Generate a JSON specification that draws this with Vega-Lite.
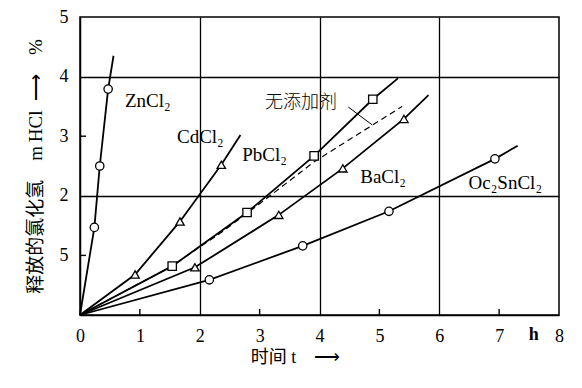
{
  "$schema": "https://vega.github.io/schema/vega-lite/v6.json",
  "width": 479,
  "height": 298,
  "autosize": "none",
  "padding": {"left": 80, "top": 17, "right": 23, "bottom": 73},
  "background": "white",
  "config": {
    "view": {"stroke": "black", "strokeWidth": 1.5},
    "font": "Liberation Serif, Noto Sans CJK SC",
    "axis": {
      "domainColor": "black",
      "domainWidth": 1.5,
      "tickColor": "black",
      "labelColor": "black",
      "titleColor": "black",
      "labelFont": "Liberation Serif",
      "labelFontSize": 18,
      "titleFont": "Liberation Serif, Noto Sans CJK SC",
      "titleFontSize": 18,
      "titleFontWeight": "normal",
      "gridColor": "black"
    }
  },
  "datasets": {
    "solid": [
      {"series": "ZnCl2", "x": 0, "y": 0},
      {"series": "ZnCl2", "x": 0.24, "y": 1.47},
      {"series": "ZnCl2", "x": 0.33, "y": 2.5},
      {"series": "ZnCl2", "x": 0.47, "y": 3.79},
      {"series": "ZnCl2", "x": 0.56, "y": 4.35},
      {"series": "CdCl2", "x": 0, "y": 0},
      {"series": "CdCl2", "x": 0.92, "y": 0.68},
      {"series": "CdCl2", "x": 1.67, "y": 1.57},
      {"series": "CdCl2", "x": 2.36, "y": 2.52},
      {"series": "CdCl2", "x": 2.68, "y": 3.02},
      {"series": "PbCl2", "x": 0, "y": 0},
      {"series": "PbCl2", "x": 1.54, "y": 0.82},
      {"series": "PbCl2", "x": 2.79, "y": 1.72},
      {"series": "PbCl2", "x": 3.91, "y": 2.67},
      {"series": "PbCl2", "x": 4.89, "y": 3.62},
      {"series": "PbCl2", "x": 5.31, "y": 3.97},
      {"series": "BaCl2", "x": 0, "y": 0},
      {"series": "BaCl2", "x": 1.92, "y": 0.8},
      {"series": "BaCl2", "x": 3.32, "y": 1.68},
      {"series": "BaCl2", "x": 4.39, "y": 2.46},
      {"series": "BaCl2", "x": 5.41, "y": 3.29},
      {"series": "BaCl2", "x": 5.82, "y": 3.69},
      {"series": "Oc2SnCl2", "x": 0, "y": 0},
      {"series": "Oc2SnCl2", "x": 2.16, "y": 0.59},
      {"series": "Oc2SnCl2", "x": 3.72, "y": 1.16},
      {"series": "Oc2SnCl2", "x": 5.16, "y": 1.74},
      {"series": "Oc2SnCl2", "x": 6.93, "y": 2.62},
      {"series": "Oc2SnCl2", "x": 7.31, "y": 2.84}
    ],
    "dashed": [
      {"x": 0, "y": 0},
      {"x": 1.5, "y": 0.8},
      {"x": 2.34, "y": 1.37},
      {"x": 2.9, "y": 1.79},
      {"x": 3.91, "y": 2.57},
      {"x": 5.38, "y": 3.5}
    ],
    "pts": [
      {"series": "ZnCl2", "x": 0.24, "y": 1.47, "shape": "circle"},
      {"series": "ZnCl2", "x": 0.33, "y": 2.5, "shape": "circle"},
      {"series": "ZnCl2", "x": 0.47, "y": 3.79, "shape": "circle"},
      {"series": "CdCl2", "x": 0.92, "y": 0.68, "shape": "triangle"},
      {"series": "CdCl2", "x": 1.67, "y": 1.57, "shape": "triangle"},
      {"series": "CdCl2", "x": 2.36, "y": 2.52, "shape": "triangle"},
      {"series": "PbCl2", "x": 1.54, "y": 0.82, "shape": "square"},
      {"series": "PbCl2", "x": 2.79, "y": 1.72, "shape": "square"},
      {"series": "PbCl2", "x": 3.91, "y": 2.67, "shape": "square"},
      {"series": "PbCl2", "x": 4.89, "y": 3.62, "shape": "square"},
      {"series": "BaCl2", "x": 1.92, "y": 0.8, "shape": "triangle"},
      {"series": "BaCl2", "x": 3.32, "y": 1.68, "shape": "triangle"},
      {"series": "BaCl2", "x": 4.39, "y": 2.46, "shape": "triangle"},
      {"series": "BaCl2", "x": 5.41, "y": 3.29, "shape": "triangle"},
      {"series": "Oc2SnCl2", "x": 2.16, "y": 0.59, "shape": "circle"},
      {"series": "Oc2SnCl2", "x": 3.72, "y": 1.16, "shape": "circle"},
      {"series": "Oc2SnCl2", "x": 5.16, "y": 1.74, "shape": "circle"},
      {"series": "Oc2SnCl2", "x": 6.93, "y": 2.62, "shape": "circle"}
    ],
    "labels": [
      {"x": 0.75, "y": 3.59, "text": "ZnCl₂"},
      {"x": 1.62, "y": 2.99, "text": "CdCl₂"},
      {"x": 2.71, "y": 2.68, "text": "PbCl₂"},
      {"x": 4.68, "y": 2.32, "text": "BaCl₂"},
      {"x": 6.49, "y": 2.21, "text": "Oc₂SnCl₂"}
    ],
    "cnlabels": [
      {"x": 3.09, "y": 3.56, "text": "无添加剂"}
    ],
    "pointer": [
      {"x": 4.48, "y": 3.49, "x2": 4.88, "y2": 3.19}
    ],
    "unit": [
      {"x": 7.58, "y": 0, "text": "h"}
    ],
    "xticks": [
      {"x": 1, "y": 0}, {"x": 3, "y": 0}, {"x": 5, "y": 0}, {"x": 7, "y": 0}
    ],
    "yticks": [
      {"x": 0, "y": 1}, {"x": 0, "y": 3}
    ]
  },
  "encoding": {
    "x": {
      "field": "x",
      "type": "quantitative",
      "scale": {"domain": [0, 8], "nice": false, "zero": false},
      "axis": {
        "values": [0, 1, 2, 3, 4, 5, 6, 7, 8],
        "grid": true,
        "gridOpacity": {"condition": {"test": "datum.value == 2 || datum.value == 4 || datum.value == 6", "value": 1}, "value": 0},
        "gridWidth": 1.3,
        "ticks": false,
        "labelPadding": 12,
        "labelFlush": false,
        "labelOverlap": false,
        "title": "时间 t\u2003⟶",
        "titleX": 215,
        "titlePadding": 3
      }
    },
    "y": {
      "field": "y",
      "type": "quantitative",
      "scale": {"domain": [0, 5], "nice": false, "zero": false},
      "axis": {
        "values": [0, 1, 2, 3, 4, 5],
        "labelExpr": "datum.value == 0 ? '' : (datum.value == 1 ? '5' : datum.label)",
        "grid": true,
        "gridOpacity": {"condition": {"test": "datum.value == 2 || datum.value == 4", "value": 1}, "value": 0},
        "gridWidth": 1.3,
        "ticks": false,
        "labelPadding": 12,
        "labelFlush": false,
        "labelOverlap": false,
        "title": "释放的氯化氢\u2003m\u2009HCl\u2002⟶\u2003%",
        "titleFontSize": 19,
        "titlePadding": 14
      }
    }
  },
  "layer": [
    {
      "data": {"name": "solid"},
      "mark": {"type": "line", "stroke": "black", "strokeWidth": 1.8},
      "encoding": {"detail": {"field": "series", "type": "nominal"}}
    },
    {
      "data": {"name": "dashed"},
      "mark": {"type": "line", "stroke": "black", "strokeWidth": 1.2, "strokeDash": [6, 4]},
      "encoding": {}
    },
    {
      "data": {"name": "xticks"},
      "mark": {"type": "tick", "orient": "vertical", "color": "black", "size": 6, "thickness": 1.4, "yOffset": -3, "opacity": 1},
      "encoding": {}
    },
    {
      "data": {"name": "yticks"},
      "mark": {"type": "tick", "orient": "horizontal", "color": "black", "size": 6, "thickness": 1.4, "xOffset": 3, "opacity": 1},
      "encoding": {}
    },
    {
      "data": {"name": "pts"},
      "mark": {"type": "point", "filled": true, "fill": "white", "stroke": "black", "strokeWidth": 1.3, "size": 70, "opacity": 1},
      "encoding": {
        "shape": {
          "field": "shape",
          "type": "nominal",
          "scale": {"domain": ["circle", "square", "triangle"], "range": ["circle", "square", "triangle-up"]},
          "legend": null
        }
      }
    },
    {
      "data": {"name": "labels"},
      "mark": {"type": "text", "align": "left", "baseline": "middle", "fontSize": 19, "font": "Liberation Serif", "color": "black"},
      "encoding": {"text": {"field": "text", "type": "nominal"}}
    },
    {
      "data": {"name": "cnlabels"},
      "mark": {"type": "text", "align": "left", "baseline": "middle", "fontSize": 18, "fontWeight": 300, "font": "Noto Sans CJK SC", "color": "black"},
      "encoding": {"text": {"field": "text", "type": "nominal"}}
    },
    {
      "data": {"name": "pointer"},
      "mark": {"type": "rule", "stroke": "black", "strokeWidth": 1},
      "encoding": {"x2": {"field": "x2"}, "y2": {"field": "y2"}}
    },
    {
      "data": {"name": "unit"},
      "mark": {"type": "text", "align": "center", "baseline": "top", "dy": 11, "fontSize": 18, "fontWeight": "bold", "font": "Liberation Serif", "color": "black"},
      "encoding": {"text": {"field": "text", "type": "nominal"}}
    }
  ]
}
